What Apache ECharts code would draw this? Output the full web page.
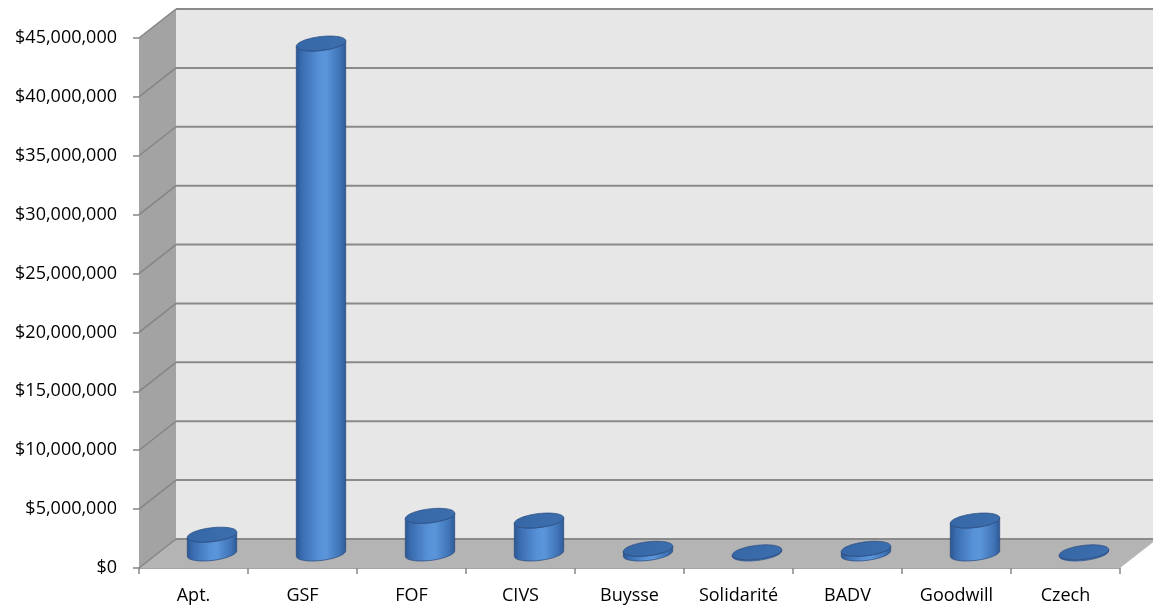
<!DOCTYPE html>
<html>
<head>
<meta charset="utf-8">
<title>Funding by program</title>
<script src="https://cdn.jsdelivr.net/npm/echarts@6/dist/echarts.min.js"></script>
<style>
  html, body { margin: 0; padding: 0; background: #ffffff; }
  #chart { width: 1153px; height: 607px; }
</style>
</head>
<body>
<div id="chart"></div>
<script>
// Program names along the floor
const categories = ['Apt.', 'GSF', 'FOF', 'CIVS', 'Buysse', 'Solidarité', 'BADV', 'Goodwill', 'Czech'];
// Amount per program, in dollars
const amounts = [1600000, 43300000, 3200000, 2800000, 400000, 100000, 400000, 2800000, 100000];
// Value ticks drawn on the walls
const valueTicks = [0, 5000000, 10000000, 15000000, 20000000, 25000000, 30000000, 35000000, 40000000, 45000000];

const Y_MAX = 45000000;
const Y_STEP = 5000000;

// Oblique depth of the box (front plane -> back wall), in pixels
const DX = 37, DY = -29;
// Cylinder footprint: x = a*cos + b*sin, y = c*sin
const CA = 23, CB = 9, CC = -7.5;

const FONT = '"Open Sans", "Noto Sans", sans-serif';

function money(v) {
  return '$' + Math.round(v).toString().replace(/\B(?=(\d{3})+(?!\d))/g, ',');
}

function renderWalls(params, api) {
  const cs = params.coordSys;
  const x0 = cs.x, x1 = cs.x + cs.width;
  const yBase = api.coord([0, 0])[1];
  const yTop = api.coord([0, Y_MAX])[1];
  const children = [];
  // back wall
  children.push({
    type: 'rect',
    shape: { x: x0 + DX, y: yTop + DY, width: x1 - x0, height: yBase - yTop },
    style: { fill: '#e7e7e7' }
  });
  // left side wall
  children.push({
    type: 'polygon',
    shape: { points: [[x0, yTop], [x0 + DX, yTop + DY], [x0 + DX, yBase + DY], [x0, yBase]] },
    style: { fill: '#a3a3a3' }
  });
  // floor
  children.push({
    type: 'polygon',
    shape: { points: [[x0, yBase], [x0 + DX, yBase + DY], [x1 + DX, yBase + DY], [x1, yBase]] },
    style: { fill: '#b4b4b4' }
  });
  // grid lines on back and side walls
  valueTicks.forEach(function (v) {
    const y = api.coord([0, v])[1];
    children.push({
      type: 'line',
      shape: { x1: x0 + DX, y1: y + DY, x2: x1 + DX, y2: y + DY },
      style: { stroke: '#8a8a8a', lineWidth: 2 }
    });
    children.push({
      type: 'line',
      shape: { x1: x0, y1: y, x2: x0 + DX, y2: y + DY },
      style: { stroke: '#858585', lineWidth: 1.5 }
    });
  });
  return { type: 'group', children: children };
}

function ellipsePoint(cx, cy, t) {
  return [cx + CA * Math.cos(t) + CB * Math.sin(t), cy + CC * Math.sin(t)];
}

function renderCylinder(params, api) {
  const idx = api.value(0);
  const val = api.value(1);
  const base = api.coord([idx, 0]);
  const top = api.coord([idx, val]);
  const cx = base[0] + DX / 2;
  const by = base[1] + DY / 2;
  const ty = top[1] + DY / 2;
  const phi = Math.atan2(CB, CA);
  const N = 40;
  // body outline: front arc of the top rim, then front arc of the bottom rim reversed
  const body = [];
  for (let k = 0; k <= N; k++) {
    const t = phi + Math.PI + Math.PI * k / N;
    body.push(ellipsePoint(cx, ty, t));
  }
  for (let k = N; k >= 0; k--) {
    const t = phi + Math.PI + Math.PI * k / N;
    body.push(ellipsePoint(cx, by, t));
  }
  const cap = [];
  for (let k = 0; k < 2 * N; k++) {
    cap.push(ellipsePoint(cx, ty, Math.PI * 2 * k / (2 * N)));
  }
  return {
    type: 'group',
    children: [
      {
        type: 'polygon',
        shape: { points: body },
        style: {
          fill: {
            type: 'linear', x: 0, y: 0, x2: 1, y2: 0,
            colorStops: [
              { offset: 0, color: '#2b5690' },
              { offset: 0.12, color: '#3a6cb0' },
              { offset: 0.45, color: '#5690d6' },
              { offset: 0.6, color: '#5b95da' },
              { offset: 0.88, color: '#3f73b6' },
              { offset: 1, color: '#2c5893' }
            ]
          },
          stroke: 'rgba(38,72,125,0.7)',
          lineWidth: 1
        }
      },
      {
        type: 'polygon',
        shape: { points: cap },
        style: {
          fill: {
            type: 'linear', x: 0, y: 0, x2: 1, y2: 1,
            colorStops: [
              { offset: 0, color: '#3566a6' },
              { offset: 1, color: '#3d6fae' }
            ]
          },
          stroke: 'rgba(38,72,125,0.7)',
          lineWidth: 1
        }
      }
    ]
  };
}

const chart = echarts.init(document.getElementById('chart'), null, { renderer: 'canvas' });

chart.setOption({
  animation: false,
  backgroundColor: '#ffffff',
  grid: { left: 139, right: 33, top: 38, bottom: 39, containLabel: false },
  xAxis: {
    type: 'category',
    data: categories,
    boundaryGap: true,
    axisLine: { show: true, lineStyle: { color: '#868686', width: 1.5 } },
    axisTick: { show: true, length: 6, alignWithLabel: false, lineStyle: { color: '#868686', width: 1.5 } },
    axisLabel: { color: '#000000', fontFamily: FONT, fontSize: 18, margin: 19, interval: 0 },
    splitLine: { show: false }
  },
  yAxis: {
    type: 'value',
    min: 0,
    max: Y_MAX,
    interval: Y_STEP,
    axisLine: { show: true, lineStyle: { color: '#8a8a8a', width: 1 } },
    axisTick: { show: true, length: 6, lineStyle: { color: '#868686', width: 1.5 } },
    axisLabel: { color: '#000000', fontFamily: FONT, fontSize: 18, margin: 22, formatter: money },
    splitLine: { show: false }
  },
  series: [
    {
      type: 'custom',
      name: 'walls',
      silent: true,
      clip: false,
      z: 1,
      data: [[0, 0]],
      renderItem: renderWalls
    },
    {
      type: 'custom',
      name: 'Amount',
      clip: false,
      z: 3,
      data: amounts.map(function (v, i) { return [i, v]; }),
      encode: { x: 0, y: 1 },
      renderItem: renderCylinder
    }
  ]
});
</script>
</body>
</html>
